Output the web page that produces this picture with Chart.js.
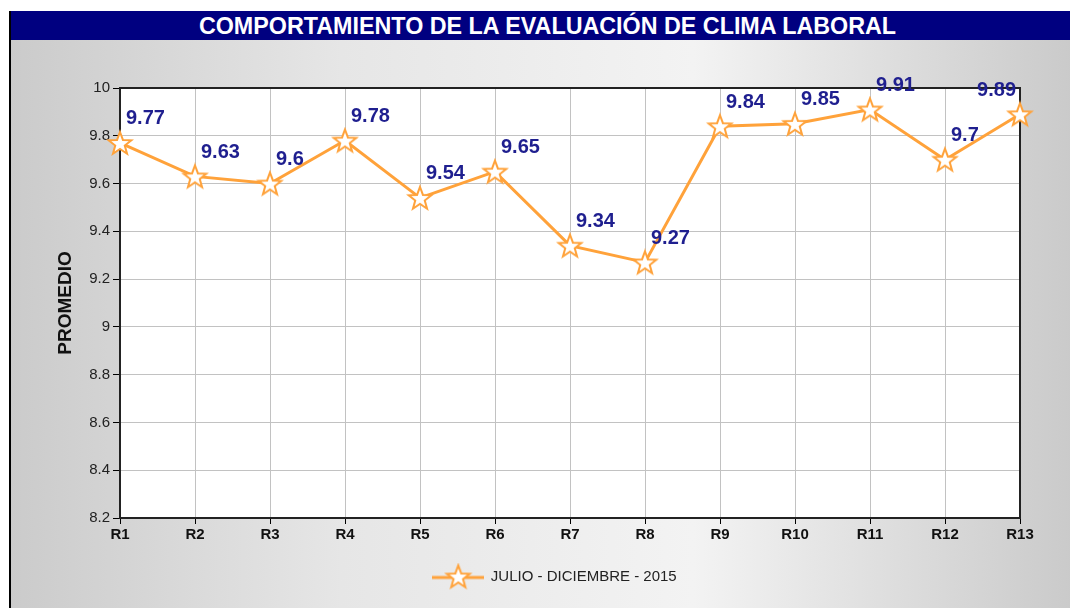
<!DOCTYPE html>
<html>
<head>
<meta charset="utf-8">
<script src="https://cdn.jsdelivr.net/npm/chart.js@4.4.0/dist/chart.umd.min.js"></script>
<style>
    body { margin: 0; background: #fff; font-family: "Liberation Sans", Arial, sans-serif; }
    #frame {
        position: absolute; left: 9px; top: 11px; width: 1100px; height: 620px;
        border-left: 2px solid #000;
        background: linear-gradient(to right, #cbcbcb 0%, #e6e6e6 30%, #f3f3f3 62%, #c6c6c6 100%);
    }
    #title {
        height: 29px; line-height: 30px; background: #000080; color: #fff;
        font-weight: bold; font-size: 23.3px; width: 1049px; padding-left: 12px; text-align: center;
    }
    #chart { position: absolute; left: 0; top: 0; }
</style>
</head>
<body>
<div id="frame">
    <div id="title">COMPORTAMIENTO DE LA EVALUACIÓN DE CLIMA LABORAL</div>
</div>
<canvas id="chart" width="1070" height="608"></canvas>
<script>
// Chart data
var categories = ["R1", "R2", "R3", "R4", "R5", "R6", "R7", "R8", "R9", "R10", "R11", "R12", "R13"];
var promedio = [9.77, 9.63, 9.6, 9.78, 9.54, 9.65, 9.34, 9.27, 9.84, 9.85, 9.91, 9.7, 9.89];
var seriesName = "JULIO - DICIEMBRE - 2015";
var yMin = 8.2;
var yMax = 10;
var yStep = 0.2;

var orange = "#ffa23a";
var labelBlue = "#1f1f8f";

// five pointed star drawn on a small canvas, used as point style
function drawStar(ctx, cx, cy, outer, inner) {
    ctx.beginPath();
    for (var i = 0; i < 10; i++) {
        var r = (i % 2 === 0) ? outer : inner;
        var a = -Math.PI / 2 + i * Math.PI / 5;
        var px = cx + r * Math.cos(a);
        var py = cy + r * Math.sin(a);
        if (i === 0) ctx.moveTo(px, py); else ctx.lineTo(px, py);
    }
    ctx.closePath();
    ctx.fillStyle = "#fff";
    ctx.fill();
    ctx.strokeStyle = orange;
    ctx.lineWidth = 2;
    ctx.lineJoin = "miter";
    ctx.stroke();
}

var starImg = document.createElement("canvas");
starImg.width = 28;
starImg.height = 28;
drawStar(starImg.getContext("2d"), 14, 15, 12, 5);

var legendImg = document.createElement("canvas");
legendImg.width = 52;
legendImg.height = 28;
var lctx = legendImg.getContext("2d");
lctx.strokeStyle = orange;
lctx.lineWidth = 3;
lctx.beginPath();
lctx.moveTo(0, 15);
lctx.lineTo(52, 15);
lctx.stroke();
drawStar(lctx, 26, 15, 12, 5);

// value labels above each point
var valueLabels = {
    id: "valueLabels",
    afterDatasetsDraw: function(chart) {
        var ctx = chart.ctx;
        var meta = chart.getDatasetMeta(0);
        ctx.save();
        ctx.font = "bold 20px 'Liberation Sans', Arial, sans-serif";
        ctx.fillStyle = labelBlue;
        ctx.textBaseline = "middle";
        meta.data.forEach(function(pt, i) {
            var last = i === meta.data.length - 1;
            ctx.textAlign = last ? "right" : "left";
            ctx.fillText(String(promedio[i]), last ? pt.x - 4 : pt.x + 6, pt.y - 24);
        });
        ctx.restore();
    }
};

// white plot area and dark frame round it
var plotFrame = {
    id: "plotFrame",
    beforeDraw: function(chart) {
        var a = chart.chartArea;
        chart.ctx.save();
        chart.ctx.fillStyle = "#fff";
        chart.ctx.fillRect(a.left, a.top, a.right - a.left, a.bottom - a.top);
        chart.ctx.restore();
    },
    beforeDatasetsDraw: function(chart) {
        var a = chart.chartArea;
        var ctx = chart.ctx;
        ctx.save();
        ctx.strokeStyle = "#222";
        ctx.lineWidth = 2;
        ctx.strokeRect(a.left, a.top, a.right - a.left, a.bottom - a.top);
        ctx.restore();
    }
};

var ctx = document.getElementById("chart").getContext("2d");
var myChart = new Chart(ctx, {
    type: "line",
    data: {
        labels: categories,
        datasets: [{
            label: seriesName,
            data: promedio,
            borderColor: orange,
            backgroundColor: "#fff",
            borderWidth: 3,
            tension: 0,
            pointStyle: starImg,
            pointRadius: 12,
            pointHoverRadius: 12,
            clip: false
        }]
    },
    plugins: [plotFrame, valueLabels],
    options: {
        responsive: false,
        animation: false,
        events: [],
        layout: { padding: { left: 90, right: 50, top: 88, bottom: 14 } },
        scales: {
            x: {
                offset: false,
                grid: { color: "#c2c2c2", tickColor: "#000", tickLength: 6, offset: false },
                border: { color: "#222", width: 2 },
                ticks: { color: "#111", padding: 2, font: { family: "'Liberation Sans', Arial", size: 15, weight: "bold" } },
                afterFit: function(scale) { scale.height = 41; }
            },
            y: {
                min: yMin,
                max: yMax,
                ticks: {
                    stepSize: yStep,
                    color: "#222",
                    padding: 3,
                    font: { family: "'Liberation Sans', Arial", size: 15 },
                    callback: function(v) { return String(Number(v.toFixed(1))); }
                },
                grid: { color: "#c2c2c2", tickColor: "#000", tickLength: 7 },
                border: { color: "#222", width: 2 },
                title: {
                    display: true,
                    text: "PROMEDIO",
                    color: "#111",
                    padding: { top: -36, bottom: 0 },
                    font: { family: "'Liberation Sans', Arial", size: 19, weight: "bold" }
                },
                afterFit: function(scale) { scale.width = 30; }
            }
        },
        plugins: {
            legend: {
                position: "bottom",
                labels: {
                    usePointStyle: true,
                    pointStyleWidth: 50,
                    color: "#222",
                    font: { family: "'Liberation Sans', Arial", size: 15 },
                    generateLabels: function(chart) {
                        var items = Chart.defaults.plugins.legend.labels.generateLabels(chart);
                        items.forEach(function(it) { it.pointStyle = legendImg; });
                        return items;
                    }
                }
            },
            tooltip: { enabled: false }
        }
    }
});
</script>
</body>
</html>
